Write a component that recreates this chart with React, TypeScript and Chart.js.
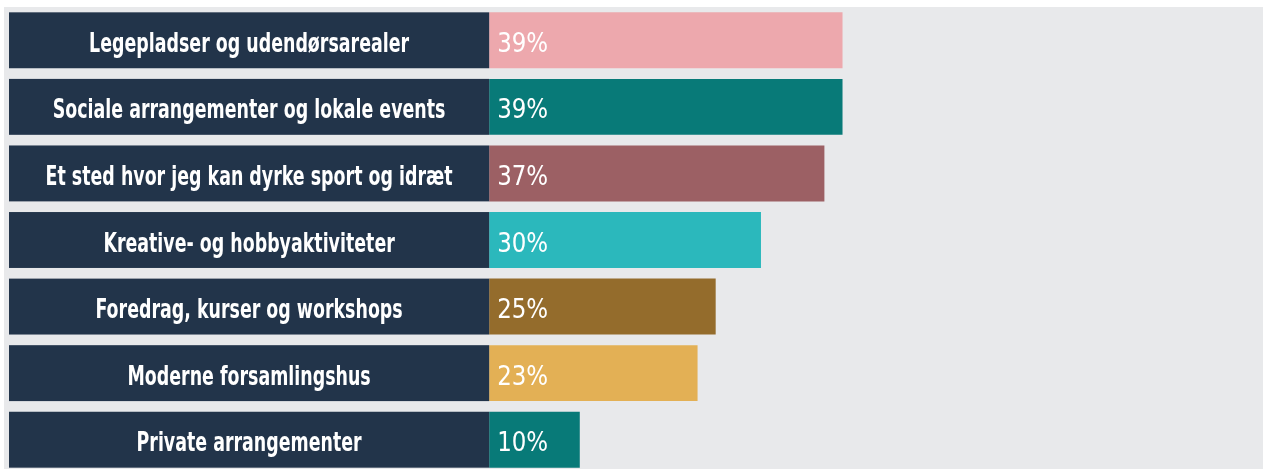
import React, { useEffect, useRef } from "react";
import { Chart, registerables } from "chart.js";
Chart.register(...registerables);

const categories = [
  "Legepladser og udendørsarealer",
  "Sociale arrangementer og lokale events",
  "Et sted hvor jeg kan dyrke sport og idræt",
  "Kreative- og hobbyaktiviteter",
  "Foredrag, kurser og workshops",
  "Moderne forsamlingshus",
  "Private arrangementer",
];
const values = [39, 39, 37, 30, 25, 23, 10];
const valueLabels = ["39%", "39%", "37%", "30%", "25%", "23%", "10%"];
const barColors = ["#EDA8AD", "#087A78", "#9C6064", "#2BB8BC", "#946C2C", "#E3B055", "#087A78"];

const NAVY = "#22344A";
const BG = "#E8E9EB";
const FONT_FAMILY = '"Liberation Sans Narrow", "DejaVu Sans Condensed", "Roboto", sans-serif';

export default function App() {
  const ref = useRef<HTMLCanvasElement>(null);
  useEffect(() => {
    document.body.style.margin = "0";
    const canvas = ref.current!;
    const bgPlugin = {
      id: "bg",
      beforeDraw(chart: any) {
        const ctx = chart.ctx;
        ctx.save();
        ctx.fillStyle = BG;
        ctx.fillRect(4, 7, chart.width - 4, chart.height - 7);
        ctx.restore();
      },
    };
    const labelPlugin = {
      id: "labelBoxes",
      afterDatasetsDraw(chart: any) {
        const ctx = chart.ctx as CanvasRenderingContext2D;
        const xs = chart.scales.x;
        const left = xs.getPixelForValue(xs.min);
        const zero = xs.getPixelForValue(0);
        const meta = chart.getDatasetMeta(0);
        ctx.save();
        // font sizing by cap height
        ctx.font = `bold 100px ${FONT_FAMILY}`;
        const capB = ctx.measureText("H").actualBoundingBoxAscent || 72;
        const sizeB = (20 / capB) * 100;
        ctx.font = `bold ${sizeB}px ${FONT_FAMILY}`;
        const sxB = 320 / ctx.measureText(categories[0]).width;
        ctx.font = `100px ${FONT_FAMILY}`;
        const capR = ctx.measureText("H").actualBoundingBoxAscent || 72;
        const sizeR = (20 / capR) * 100;
        ctx.font = `${sizeR}px ${FONT_FAMILY}`;
        const sxR = 51 / ctx.measureText("39%").width;

        meta.data.forEach((bar: any, i: number) => {
          const { y, height } = bar.getProps(["y", "height"], true);
          const top = y - height / 2;
          ctx.fillStyle = NAVY;
          ctx.fillRect(left, top, zero - left, height);
          const baseline = y + 11.5;
          ctx.fillStyle = "#FFFFFF";
          ctx.textBaseline = "alphabetic";
          ctx.font = `bold ${sizeB}px ${FONT_FAMILY}`;
          ctx.textAlign = "center";
          ctx.save();
          ctx.translate((left + zero) / 2, baseline);
          ctx.scale(sxB, 1);
          ctx.fillText(categories[i], 0, 0);
          ctx.restore();
          ctx.font = `${sizeR}px ${FONT_FAMILY}`;
          ctx.textAlign = "left";
          ctx.save();
          ctx.translate(zero + 8, baseline);
          ctx.scale(sxR, 1);
          ctx.fillText(valueLabels[i], 0, 0);
          ctx.restore();
        });
        ctx.restore();
      },
    };
    const chart = new Chart(canvas, {
      type: "bar",
      data: {
        labels: categories,
        datasets: [
          {
            data: values,
            backgroundColor: barColors,
            borderWidth: 0,
            barPercentage: 0.84,
            categoryPercentage: 1,
          },
        ],
      },
      options: {
        indexAxis: "y",
        animation: false,
        responsive: false,
        devicePixelRatio: 1,
        layout: { padding: { left: 9, right: 1, top: 7, bottom: 1 } },
        plugins: { legend: { display: false }, tooltip: { enabled: false } },
        scales: {
          x: { display: false, min: -53, max: 85.3 },
          y: { display: false, offset: true },
        },
      },
      plugins: [bgPlugin, labelPlugin],
    } as any);
    return () => chart.destroy();
  }, []);
  return (
    <div>
      <canvas ref={ref} width={1263} height={474} style={{ display: "block", width: 1263, height: 474 }} />
    </div>
  );
}
